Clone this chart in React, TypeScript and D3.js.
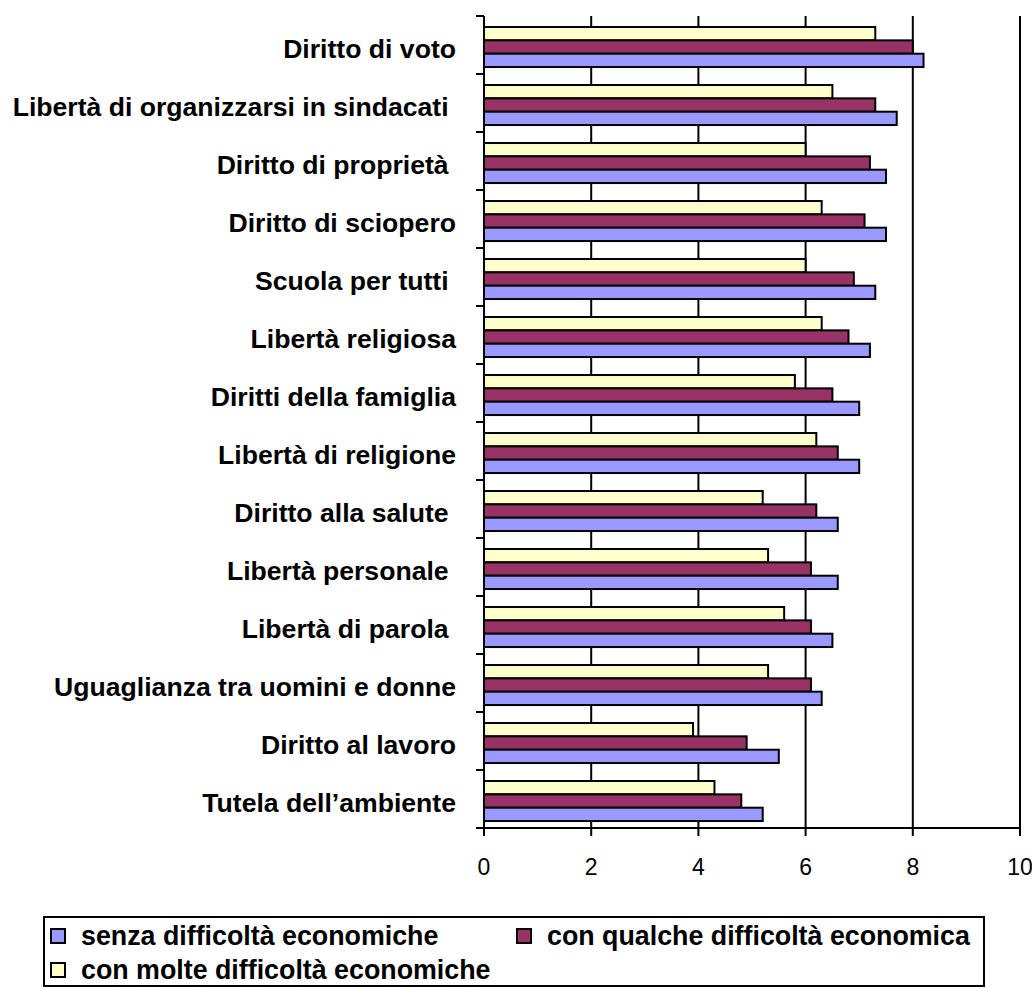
import React from "react";
import * as d3 from "d3";

const categories: string[] = [
  "Diritto di voto",
  "Libertà di organizzarsi in sindacati ",
  "Diritto di proprietà ",
  "Diritto di sciopero",
  "Scuola per tutti ",
  "Libertà religiosa",
  "Diritti della famiglia",
  "Libertà di religione",
  "Diritto alla salute ",
  "Libertà personale ",
  "Libertà di parola ",
  "Uguaglianza tra uomini e donne",
  "Diritto al lavoro",
  "Tutela dell’ambiente",
];

const senzaDifficolta: number[] = [8.2, 7.7, 7.5, 7.5, 7.3, 7.2, 7.0, 7.0, 6.6, 6.6, 6.5, 6.3, 5.5, 5.2];
const qualcheDifficolta: number[] = [8.0, 7.3, 7.2, 7.1, 6.9, 6.8, 6.5, 6.6, 6.2, 6.1, 6.1, 6.1, 4.9, 4.8];
const molteDifficolta: number[] = [7.3, 6.5, 6.0, 6.3, 6.0, 6.3, 5.8, 6.2, 5.2, 5.3, 5.6, 5.3, 3.9, 4.3];

const seriesNames: string[] = [
  "senza difficoltà economiche",
  "con qualche difficoltà economica",
  "con molte difficoltà economiche",
];
const seriesColors: string[] = ["#9999FF", "#993366", "#FFFFCC"];
const xTicks: number[] = [0, 2, 4, 6, 8, 10];

const FONT = "'Liberation Sans', Arial, Helvetica, sans-serif";

export default function App() {
  const left = 484;
  const right = 1020;
  const top = 16;
  const bottom = 828;

  const x = d3.scaleLinear().domain([0, 10]).range([left, right]);
  const y = d3.scaleBand<string>().domain(categories).range([top, bottom]).paddingInner(0).paddingOuter(0);
  const bw = y.bandwidth();
  // bars within a category: yellow on top, then red, then blue
  const order = [2, 1, 0];
  const seriesData = [senzaDifficolta, qualcheDifficolta, molteDifficolta];
  const inner = d3
    .scaleBand<number>()
    .domain(order)
    .range([bw * 0.19, bw * 0.88])
    .padding(0);

  const tickYs = categories.map((c) => y(c) as number).concat([bottom]);

  return (
    <svg
      width={1032}
      height={988}
      style={{ position: "absolute", left: 0, top: 0, background: "#fff" }}
      fontFamily={FONT}
    >
      <rect x={0} y={0} width={1032} height={988} fill="#fff" />
      {/* grid lines */}
      {xTicks.slice(1).map((t) => (
        <line key={"g" + t} x1={x(t)} x2={x(t)} y1={top} y2={bottom} stroke="#000" strokeWidth={2} />
      ))}
      {/* bars */}
      {categories.map((c, i) => (
        <g key={c} transform={`translate(0,${y(c)})`}>
          {order.map((s) => (
            <rect
              key={s}
              x={x(0)}
              y={inner(s) as number}
              width={x(seriesData[s][i]) - x(0)}
              height={inner.bandwidth()}
              fill={seriesColors[s]}
              stroke="#000"
              strokeWidth={2}
            />
          ))}
        </g>
      ))}
      {/* y axis */}
      <line x1={left} x2={left} y1={top} y2={bottom} stroke="#000" strokeWidth={2} />
      {tickYs.map((ty, i) => (
        <line key={"yt" + i} x1={left - 8} x2={left} y1={ty} y2={ty} stroke="#000" strokeWidth={2} />
      ))}
      {/* x axis */}
      <line x1={left - 8} x2={right} y1={bottom} y2={bottom} stroke="#000" strokeWidth={2} />
      {xTicks.map((t) => (
        <g key={"xt" + t}>
          <line x1={x(t)} x2={x(t)} y1={bottom} y2={bottom + 8} stroke="#000" strokeWidth={2} />
          <text x={x(t)} y={bottom + 47} textAnchor="middle" fontSize={23} fill="#000">
            {t}
          </text>
        </g>
      ))}
      {/* category labels */}
      {categories.map((c) => (
        <text
          key={"l" + c}
          x={456}
          y={(y(c) as number) + bw / 2 + 13}
          textAnchor="end"
          fontSize={26.6}
          fontWeight="bold"
          fill="#000"
          style={{ whiteSpace: "pre" }}
        >
          {c}
        </text>
      ))}
      {/* legend */}
      <rect x={44} y={917} width={940} height={69} fill="#fff" stroke="#000" strokeWidth={2} />
      {[
        { s: 0, lx: 51, ly: 936 },
        { s: 1, lx: 517, ly: 936 },
        { s: 2, lx: 51, ly: 970 },
      ].map(({ s, lx, ly }) => (
        <g key={"lg" + s}>
          <rect x={lx} y={ly - 7} width={14} height={14} fill={seriesColors[s]} stroke="#000" strokeWidth={2} />
          <text x={lx + 30} y={ly + 9} fontSize={26.8} fontWeight="bold" fill="#000">
            {seriesNames[s]}
          </text>
        </g>
      ))}
    </svg>
  );
}
